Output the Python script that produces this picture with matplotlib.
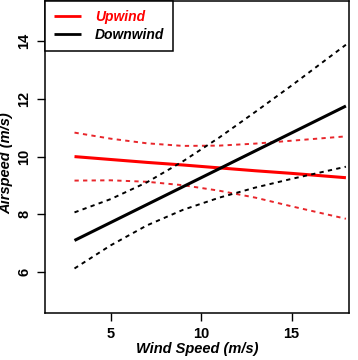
import matplotlib
matplotlib.use("Agg")
import matplotlib.pyplot as plt

# wind speed (m/s) where the curves were read
wind = [3, 5, 7, 9, 11, 13, 15, 18]

# Upwind: fit and confidence band
up_fit = [10.00, 9.90, 9.80, 9.71, 9.61, 9.51, 9.42, 9.27]
up_hi = [10.83, 10.62, 10.46, 10.37, 10.38, 10.45, 10.55, 10.70]
up_lo = [9.17, 9.18, 9.13, 9.01, 8.82, 8.58, 8.28, 7.85]

# Downwind: fit and confidence band
down_fit = [7.10, 7.72, 8.34, 8.96, 9.58, 10.20, 10.82, 11.75]
down_hi = [8.07, 8.53, 9.11, 9.84, 10.66, 11.55, 12.46, 13.87]
down_lo = [6.13, 6.93, 7.62, 8.16, 8.58, 8.93, 9.23, 9.65]

xticks = [5, 10, 15]
yticks = [6, 8, 10, 12, 14]

plt.rcParams['font.family'] = ['Liberation Sans', 'DejaVu Sans']

fig = plt.figure(figsize=(3.58, 3.60), dpi=100)
ax = fig.add_axes([45 / 358, 47 / 360, 304 / 358, 312.5 / 360])

ax.plot(wind, up_fit, color='red', lw=2.2, label='Upwind', solid_capstyle='butt')
ax.plot(wind, up_hi, color='#e8262b', lw=1.4, dashes=(2.2, 2.2))
ax.plot(wind, up_lo, color='#e8262b', lw=1.4, dashes=(2.2, 2.2))

ax.plot(wind, down_fit, color='black', lw=2.2, label='Downwind', solid_capstyle='butt')
ax.plot(wind, down_hi, color='black', lw=1.4, dashes=(2.2, 2.2))
ax.plot(wind, down_lo, color='black', lw=1.4, dashes=(2.2, 2.2))

ax.set_xlim(1.37, 18.17)
ax.set_ylim(4.59, 15.40)
ax.set_xticks(xticks)
ax.set_yticks(yticks)
ax.tick_params(direction='out', length=6, width=1, pad=4)
for lab in ax.get_xticklabels():
    lab.set_fontweight('bold')
    lab.set_fontsize(10.5)
for lab in ax.get_yticklabels():
    lab.set_fontweight('bold')
    lab.set_fontsize(10.5)
    lab.set_rotation(90)
    lab.set_va('center')
for s in ax.spines.values():
    s.set_linewidth(1.1)

ax.set_xlabel('Wind Speed (m/s)', fontsize=10.5, fontweight='bold', style='italic', labelpad=1)
ax.set_ylabel('Airspeed (m/s)', fontsize=10.5, fontweight='bold', style='italic')
ax.yaxis.set_label_coords(-0.103, 0.48)

leg = ax.legend(loc='upper left', bbox_to_anchor=(0, 1), borderaxespad=0,
                fancybox=False, edgecolor='black', framealpha=1,
                prop={'weight': 'bold', 'style': 'italic', 'size': 10},
                labelcolor=['red', 'black'], handlelength=1.95,
                handletextpad=1.0, borderpad=0.65, labelspacing=0.3)
leg.get_frame().set_linewidth(1.1)
for h in leg.get_lines():
    h.set_linewidth(2.0)

fig.savefig('out.png', dpi=100)
